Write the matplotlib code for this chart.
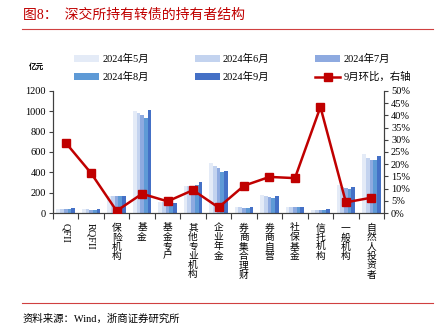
import numpy as np
import matplotlib
matplotlib.use("Agg")
import matplotlib.pyplot as plt
from matplotlib.ticker import FuncFormatter, MultipleLocator

plt.rcParams["font.family"] = ["Liberation Serif", "Noto Sans CJK SC"]
plt.rcParams["axes.unicode_minus"] = False

# holder categories
categories = ["QFII", "RQFII", "保险机构", "基金", "基金专户", "其他专业机构", "企业年金",
              "券商集合理财", "券商自营", "社保基金", "信托机构", "一般机构", "自然人投资者"]
months = ["2024年5月", "2024年6月", "2024年7月", "2024年8月", "2024年9月"]

# holdings, 亿元
may = [40, 38, 172, 1003, 108, 265, 488, 56, 177, 55, 30, 280, 578]
jun = [40, 38, 172, 986, 105, 265, 465, 55, 167, 55, 28, 258, 540]
jul = [38, 35, 170, 967, 100, 265, 440, 52, 154, 55, 28, 250, 522]
aug = [40, 35, 170, 937, 100, 275, 406, 52, 144, 55, 30, 238, 522]
sep = [50, 40, 170, 1016, 103, 305, 413, 55, 167, 62, 42, 252, 556]
# September month-on-month change, %
mom = [28.8, 16.3, 0.9, 7.9, 4.8, 9.4, 2.3, 11.2, 14.8, 14.3, 43.4, 4.4, 6.3]

series = [may, jun, jul, aug, sep]
colors = ["#e4ebf7", "#c3d3ef", "#8eaae0", "#5e9ad6", "#4470c6"]
red = "#c00000"

fig = plt.figure(figsize=(4.41, 3.34), dpi=100)
ax = fig.add_axes([0.120, 0.362, 0.751, 0.366])
ax2 = ax.twinx()

x = np.arange(len(categories))
bw = 0.145
for k, (vals, c) in enumerate(zip(series, colors)):
    ax.bar(x + (k - 2) * bw, vals, width=bw, color=c, label=months[k], zorder=2)

ln, = ax2.plot(x, mom, color=red, lw=1.8, marker="s", ms=6, label="9月环比，右轴", zorder=3)

ax.set_xlim(-0.5, len(categories) - 0.5)
ax.set_ylim(0, 1200)
ax.yaxis.set_major_locator(MultipleLocator(200))
ax2.set_ylim(0, 50)
ax2.yaxis.set_major_locator(MultipleLocator(5))
ax2.yaxis.set_major_formatter(FuncFormatter(lambda v, p: f"{v:.0f}%"))

for a in (ax, ax2):
    a.spines["top"].set_visible(False)
    for s in ("left", "right", "bottom"):
        a.spines[s].set_color("#404040")
        a.spines[s].set_linewidth(0.8)
    a.tick_params(labelsize=7.5, length=3, width=0.8, color="#404040", pad=2)

# ticks between categories, labels centred below
ax.set_xticks(np.arange(len(categories) + 1) - 0.5)
ax.set_xticklabels([])
ax.tick_params(axis="x", length=4, direction="out")
for i, name in enumerate(categories):
    if name.isascii():
        ax.text(i, -0.085, name, transform=ax.get_xaxis_transform(), rotation=-90,
                ha="center", va="top", fontsize=7.5)
    else:
        ax.text(i, -0.085, "\n".join(name), transform=ax.get_xaxis_transform(),
                ha="center", va="top", fontsize=7, linespacing=1.05)

# legend, row-major order across three columns
handles = ax.get_legend_handles_labels()[0] + [ln]
labels = months + ["9月环比，右轴"]
order = [0, 3, 1, 4, 2, 5]
fig.legend([handles[i] for i in order], [labels[i] for i in order], ncol=3,
           loc="center", bbox_to_anchor=(0.550, 0.796), frameon=False, fontsize=7.5,
           handlelength=2.4, handleheight=0.55, handletextpad=0.3,
           columnspacing=4.4, labelspacing=0.75)

fig.text(0.083, 0.800, "亿元", fontsize=5.5, fontweight="bold", ha="center", va="center")

# header and footer
fig.text(0.052, 0.953, "图8：  深交所持有转债的持有者结构", color=red, fontsize=10,
         ha="left", va="center")
fig.add_artist(plt.Line2D([0.050, 0.982], [0.913, 0.913], color="#d04040", lw=0.8))
fig.add_artist(plt.Line2D([0.050, 0.982], [0.093, 0.093], color="#d04040", lw=0.8))
fig.text(0.052, 0.047, "资料来源：Wind，浙商证券研究所", fontsize=7.5, ha="left", va="center")

fig.savefig("out.png", dpi=100)
